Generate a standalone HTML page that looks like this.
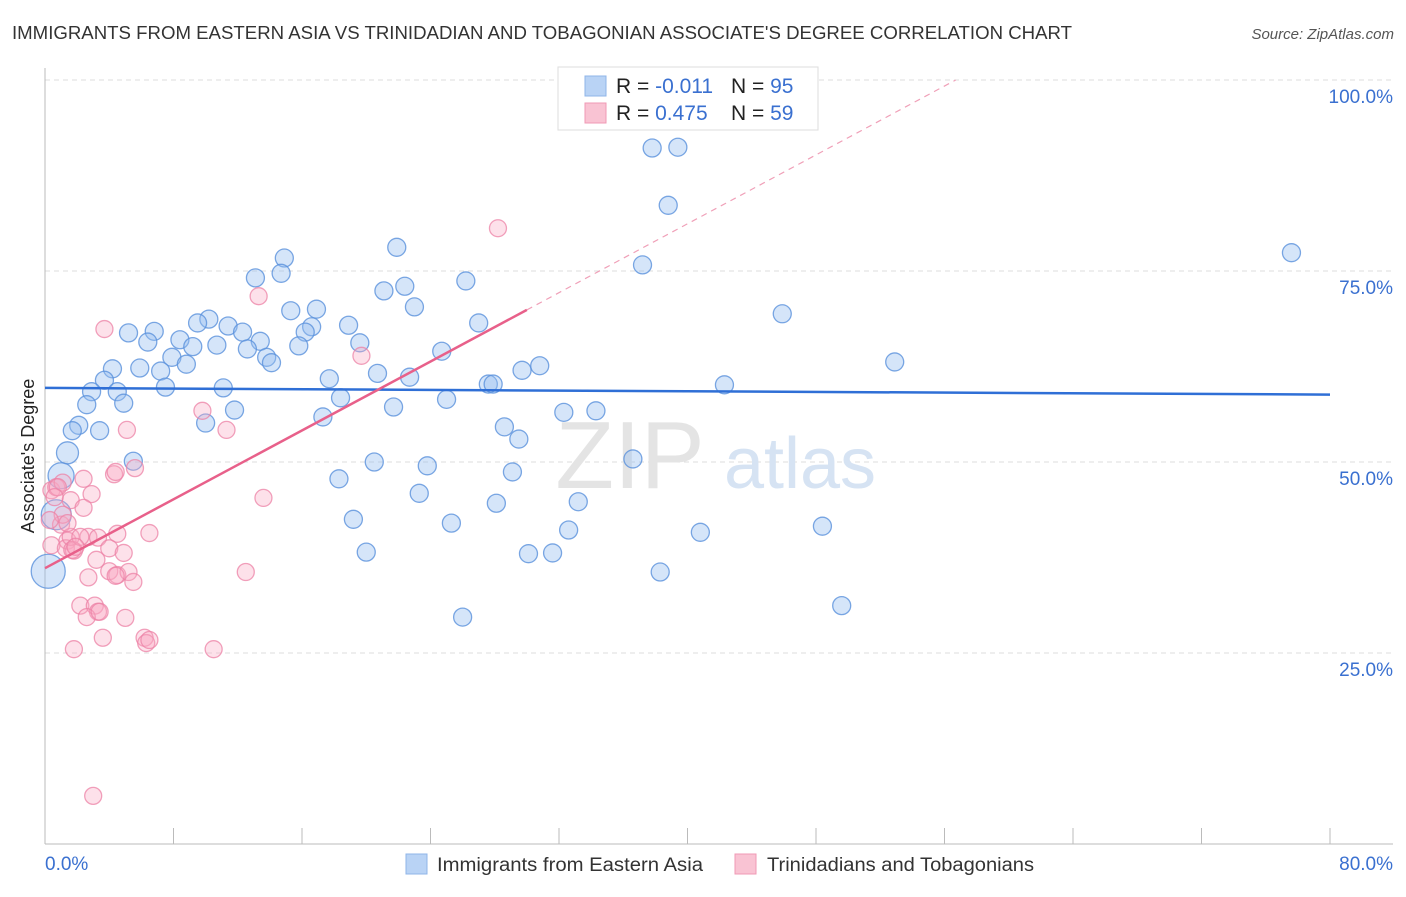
<!DOCTYPE html>
<html><head><meta charset="utf-8"><style>
body{margin:0;background:#fff;font-family:"Liberation Sans",sans-serif;}
svg text{font-family:"Liberation Sans",sans-serif;}
</style></head><body>
<svg id="chart" width="1406" height="892" xmlns="http://www.w3.org/2000/svg">
<text x="12" y="39" font-size="18" fill="#333" textLength="1060" lengthAdjust="spacingAndGlyphs">IMMIGRANTS FROM EASTERN ASIA VS TRINIDADIAN AND TOBAGONIAN ASSOCIATE'S DEGREE CORRELATION CHART</text>
<text x="1394" y="39" font-size="15" fill="#555" text-anchor="end" font-style="italic">Source: ZipAtlas.com</text>
<text x="34" y="456" font-size="18" fill="#222" text-anchor="middle" transform="rotate(-90 34 456)">Associate's Degree</text>
<g id="grid"></g>
<text x="630" y="488" font-size="96" fill="#e4e4e4" font-family="Liberation Serif" text-anchor="middle">ZIP</text>
<text x="800" y="488" font-size="72" fill="#d6e3f3" text-anchor="middle">atlas</text>
<g id="marks"></g>
<g>
<rect x="558" y="67" width="260" height="63" fill="#fff" stroke="#ddd"/>
<rect x="585" y="76" width="21" height="20" fill="#b9d3f5" stroke="#8fb4e8"/>
<rect x="585" y="103" width="21" height="20" fill="#f9c3d3" stroke="#f09ab4"/>
<text x="616" y="93" font-size="21" fill="#222">R = <tspan fill="#3a70d0">-0.011</tspan></text>
<text x="731" y="93" font-size="21" fill="#222">N = <tspan fill="#3a70d0">95</tspan></text>
<text x="616" y="120" font-size="21" fill="#222">R = <tspan fill="#3a70d0"> 0.475</tspan></text>
<text x="731" y="120" font-size="21" fill="#222">N = <tspan fill="#3a70d0">59</tspan></text>
</g>
<g>
<rect x="406" y="854" width="21" height="20" fill="#b9d3f5" stroke="#8fb4e8"/>
<text x="437" y="871" font-size="19" fill="#333" textLength="266" lengthAdjust="spacingAndGlyphs">Immigrants from Eastern Asia</text>
<rect x="735" y="854" width="21" height="20" fill="#f9c3d3" stroke="#f09ab4"/>
<text x="767" y="871" font-size="19" fill="#333" textLength="267" lengthAdjust="spacingAndGlyphs">Trinidadians and Tobagonians</text>
</g>
</svg>
<script>
const blueX=[37.8,39.4,38.8,77.6,21.9,14.9,13.1,14.7,26.2,37.2,22.4,21.1,23.0,15.3,16.9,10.2,9.5,11.4,12.3,5.2,6.8,6.4,8.4,13.4,16.6,16.2,18.9,27.0,19.6,15.8,9.2,10.7,12.6,13.8,7.9,5.9,4.2,7.2,8.8,14.1,24.7,30.8,29.7,20.7,3.7,17.7,22.7,27.6,27.9,42.3,45.9,52.9,7.5,11.1,2.9,4.5,4.9,2.6,11.8,18.4,21.7,25.0,32.3,34.3,17.3,10.0,2.1,1.7,3.4,28.6,29.5,1.4,1.0,5.5,20.5,23.8,36.6,29.1,18.3,23.3,33.2,28.1,19.2,25.3,0.7,48.4,32.6,40.8,20.0,30.1,31.6,38.3,49.6,26.0,0.2];
const blueY=[91.1,91.2,83.6,77.4,78.1,76.7,74.1,74.7,73.7,75.8,73.0,72.4,70.3,69.8,70.0,68.7,68.2,67.8,67.0,66.9,67.1,65.7,66.0,65.8,67.7,67.0,67.9,68.2,65.6,65.2,65.1,65.3,64.8,63.7,63.7,62.3,62.2,61.9,62.8,63.0,64.5,62.6,62.0,61.6,60.7,60.9,61.1,60.2,60.2,60.1,69.4,63.1,59.8,59.7,59.2,59.2,57.7,57.5,56.8,58.4,57.2,58.2,56.5,56.7,55.9,55.1,54.8,54.1,54.1,54.6,53.0,51.2,48.2,50.1,50.0,49.5,50.4,48.7,47.8,45.9,44.8,44.6,42.5,42.0,43.1,41.6,41.1,40.8,38.2,38.0,38.1,35.6,31.2,29.7,35.7];
const pinkX=[28.2,13.3,3.7,19.7,9.8,5.1,11.3,0.4,0.7,1.1,4.3,4.4,5.6,2.4,2.9,1.6,2.4,13.6,1.0,1.1,0.4,1.4,1.3,1.8,1.6,2.7,4.5,6.5,1.7,2.2,3.3,4.0,4.9,3.2,2.7,4.0,4.5,5.2,5.5,12.5,2.2,3.1,3.3,2.6,3.4,5.0,6.2,6.3,3.6,1.8,10.5,3.0,0.8,0.6,0.3,1.4,1.9,6.5,4.4];
const pinkY=[80.6,71.7,67.4,63.9,56.7,54.2,54.2,46.3,46.7,47.3,48.4,48.7,49.2,47.8,45.8,45.0,44.0,45.3,41.8,43.1,39.1,39.7,38.7,38.4,40.2,40.2,40.6,40.7,38.5,40.2,40.1,38.7,38.1,37.2,34.9,35.7,35.2,35.6,34.3,35.6,31.2,31.2,30.4,29.7,30.4,29.6,27.0,26.3,27.0,25.5,25.5,6.3,46.7,45.4,42.4,42.0,38.9,26.7,35.1];
const blueTrend=[59.7,-0.011];
const pinkTrend=[36.1,1.127];
const yTicks=[25,50,75,100];
const yTickLabels=["25.0%","50.0%","75.0%","100.0%"];
const xTicks=[0,8,16,24,32,40,48,56,64,72,80];

const NS="http://www.w3.org/2000/svg";
const sx=v=>45+v*1285/80;
const sy=v=>844-v*7.64;
function mk(tag,attrs,parent){const e=document.createElementNS(NS,tag);for(const k in attrs)e.setAttribute(k,attrs[k]);parent.appendChild(e);return e;}
const grid=document.getElementById('grid'),marks=document.getElementById('marks');
yTicks.forEach((t,i)=>{
  const l=mk('line',{x1:45,x2:1393,y1:sy(t),y2:sy(t),stroke:'#ddd','stroke-dasharray':'5,4'},grid);
  
  
  const tx=mk('text',{x:1393,y:sy(t)+23,'font-size':19,fill:'#3a70d0','text-anchor':'end'},grid);
  tx.textContent=yTickLabels[i];
  
  
});
const ax=mk('line',{x1:45,x2:45,y1:68,y2:844,stroke:'#bbb'},grid);


const bx=mk('line',{x1:45,x2:1393,y1:844,y2:844,stroke:'#bbb'},grid);


xTicks.forEach(t=>{
  const l=mk('line',{x1:sx(t),x2:sx(t),y1:828,y2:844,stroke:'#bbb'},grid);
  
  
});
const x0=mk('text',{x:45,y:870,'font-size':19,fill:'#3a70d0'},grid);x0.textContent='0.0%';


const x1=mk('text',{x:1393,y:870,'font-size':19,fill:'#3a70d0','text-anchor':'end'},grid);x1.textContent='80.0%';



function radius(x,y,base){if(x<0.5)return 17;if(x<0.8&&y<45)return 15;if(x<1.1&&y>47&&y<49)return 13;if(x<1.5&&y>50&&y<52)return 11;return base;}
blueX.forEach((x,i)=>{
  const c=mk('circle',{cx:sx(x),cy:sy(blueY[i]),r:radius(x,blueY[i],9),fill:'rgba(150,190,240,0.4)',stroke:'rgba(90,145,220,0.8)','stroke-width':1.3},marks);
  
  
});
pinkX.forEach((x,i)=>{
  const c=mk('circle',{cx:sx(x),cy:sy(pinkY[i]),r:8.5,fill:'rgba(248,170,195,0.35)',stroke:'rgba(236,130,165,0.75)','stroke-width':1.3},marks);
  
  
});
const bl=mk('line',{x1:sx(0),y1:sy(blueTrend[0]),x2:sx(80),y2:sy(blueTrend[0]+blueTrend[1]*80),stroke:'#2f6fd6','stroke-width':2.5},marks);


const maxPx=Math.max(...pinkX);
const pl=mk('line',{x1:sx(0),y1:sy(pinkTrend[0]),x2:sx(maxPx+1.8),y2:sy(pinkTrend[0]+pinkTrend[1]*(maxPx+1.8)),stroke:'#e8608a','stroke-width':2.5},marks);


const xe=(100-pinkTrend[0])/pinkTrend[1];
const pd=mk('line',{x1:sx(maxPx+1.8),y1:sy(pinkTrend[0]+pinkTrend[1]*(maxPx+1.8)),x2:sx(xe),y2:sy(100),stroke:'#f0a0b8','stroke-width':1.2,'stroke-dasharray':'6,5'},marks);


</script>
</body></html>
